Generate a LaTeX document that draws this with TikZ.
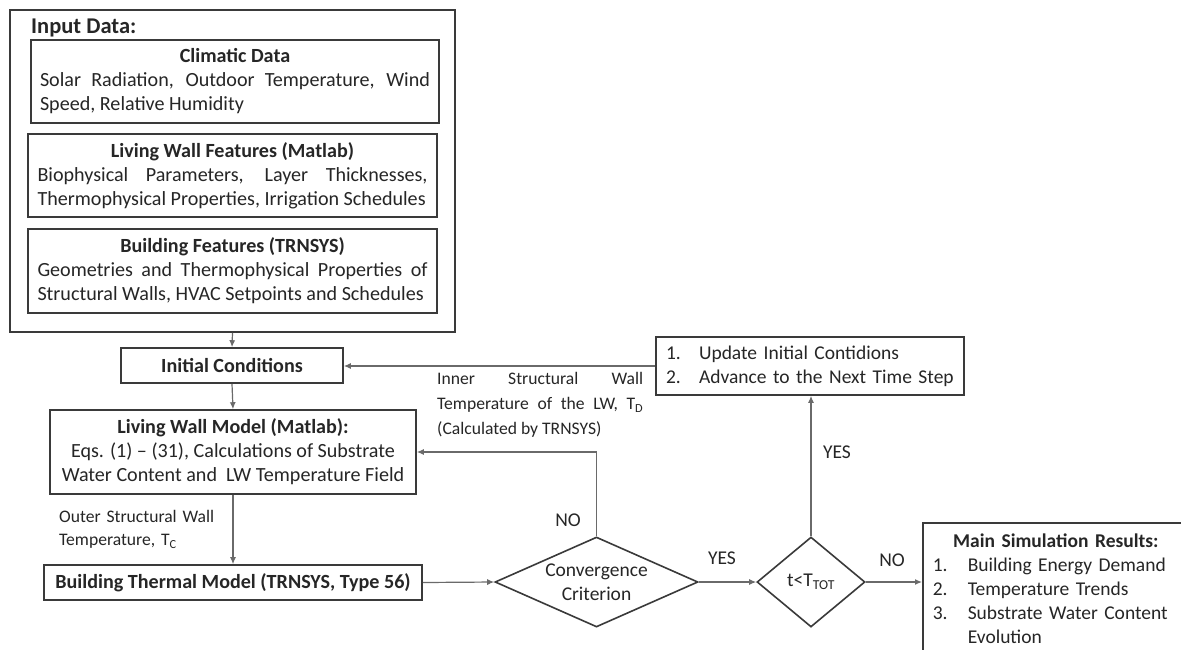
\documentclass[tikz,border=0pt]{standalone}
\usepackage{fontspec}
\setmainfont{Carlito}
\usetikzlibrary{arrows.meta,shapes.geometric}
\definecolor{boxc}{HTML}{3A3A3A}
\definecolor{linec}{HTML}{6A6A6A}
\definecolor{txtc}{HTML}{262626}
\newcommand\bigfont{\fontsize{20.1}{24}\selectfont}
\newcommand\midfont{\fontsize{19.5}{24}\selectfont}
\newcommand\titlefont{\fontsize{22.5}{26}\selectfont}
\newcommand\lblfont{\fontsize{17.6}{25}\selectfont}
\begin{document}
\begin{tikzpicture}[x=1pt,y=-1pt,
  box/.style={draw=boxc, line width=1.6pt, rectangle, inner sep=0pt, font=\bigfont, text=txtc},
  dia/.style={draw=boxc, line width=1.6pt, diamond, inner sep=0pt, font=\midfont, text=txtc},
  conn/.style={draw=linec, line width=1.2pt, -{Latex[length=7pt,width=6pt]}},
  lbl/.style={inner sep=0pt, font=\lblfont, text=txtc},
  yn/.style={inner sep=0pt, font=\midfont, text=txtc}]
\useasboundingbox (0,0) rectangle (1181,649);
\clip (0,0) rectangle (1181,649);
\fill[white] (0,0) rectangle (1181,649);

% input data block
\node[box, minimum width=445pt, minimum height=322pt] (input) at (232.5,171) {};
\node[anchor=base west, inner sep=0pt, font=\titlefont\bfseries, text=txtc] (inputtitle) at (31,33.5) {Input Data:};
\node[box, minimum width=408pt, minimum height=83pt, text width=390pt, align=justify] (clim) at (235,81.5)
  {{\centering\bfseries Climatic Data\par}Solar Radiation, Outdoor Temperature, Wind\linebreak Speed, Relative Humidity};
\node[box, minimum width=409pt, minimum height=83pt, text width=390pt, align=justify] (lwf) at (232.5,175.5)
  {{\centering\bfseries Living Wall Features (Matlab)\par}Biophysical Parameters, Layer Thicknesses,\linebreak Thermophysical Properties, Irrigation Schedules};
\node[box, minimum width=409pt, minimum height=84pt, text width=390pt, align=justify] (bf) at (232.5,271)
  {{\centering\bfseries Building Features (TRNSYS)\par}Geometries and Thermophysical Properties of\linebreak Structural Walls, HVAC Setpoints and Schedules};

% main chain
\node[box, minimum width=222pt, minimum height=35pt, font=\bigfont\bfseries] (init) at (232,365.5) {Initial Conditions};
\node[box, minimum width=366pt, minimum height=84pt, align=center] (lwm) at (233,452)
  {\textbf{Living Wall Model (Matlab):}\\Eqs. (1) – (31), Calculations of Substrate\\Water Content and\ \ LW Temperature Field};
\node[box, minimum width=378pt, minimum height=35pt, font=\bigfont\bfseries] (btm) at (233,582.5) {Building Thermal Model (TRNSYS, Type 56)};

\node[box, font=\midfont, minimum width=308pt, minimum height=58pt, text width=288pt, align=left] (upd) at (810,366)
  {\makebox[33pt][l]{1.}Update Initial Contidions\\\makebox[33pt][l]{2.}Advance to the Next Time Step};

\node[dia, minimum width=203pt, minimum height=90pt,
  label={[yn, align=center]center:Convergence\\Criterion}] (conv) at (596.5,582) {};
\node[dia, minimum width=108pt, minimum height=90pt,
  label={[yn]center:t<T\textsubscript{TOT}}] (tt) at (811,582) {};

\node[box, font=\midfont, anchor=north west, inner xsep=10pt, inner ysep=11pt, text width=258pt, align=left] (res) at (922,522)
  {\makebox[246pt]{\bfseries Main Simulation Results:}\\
   \makebox[35pt][l]{1.}Building Energy Demand\\
   \makebox[35pt][l]{2.}Temperature Trends\\
   \makebox[35pt][l]{3.}\makebox[208pt][s]{Substrate Water Content}\\
   \hspace*{35pt}Evolution};

% labels
\node[lbl, anchor=north west, text width=206pt, align=justify] (innerlbl) at (437,372)
  {Inner Structural Wall\linebreak Temperature of the LW, T\textsubscript{D}\linebreak (Calculated by TRNSYS)};
\node[lbl, anchor=north west, text width=170pt, align=left] (outerlbl) at (59,510.5)
  {Outer Structural Wall\\[-2.5pt]Temperature, T\textsubscript{C}};
\node[yn] (no1) at (568,520) {NO};
\node[yn] (yes1) at (722,558) {YES};
\node[yn] (yes2) at (837,452) {YES};
\node[yn] (no2) at (892,560) {NO};

% connectors
\draw[conn] (input.south) -- (init.north);
\draw[conn] (init.south) -- (lwm.north);
\draw[conn] (lwm.south) -- (btm.north);
\draw[conn] (btm.east) -- (conv.west);
\draw[conn] (conv.east) -- (tt.west);
\draw[conn] (tt.east) -- (tt.east -| res.west);
\draw[conn] (tt.north) -- (tt.north |- upd.south);
\draw[conn] (upd.west) -- (upd.west -| init.east);
\draw[conn] (conv.north) |- (lwm.east);
\end{tikzpicture}
\end{document}
